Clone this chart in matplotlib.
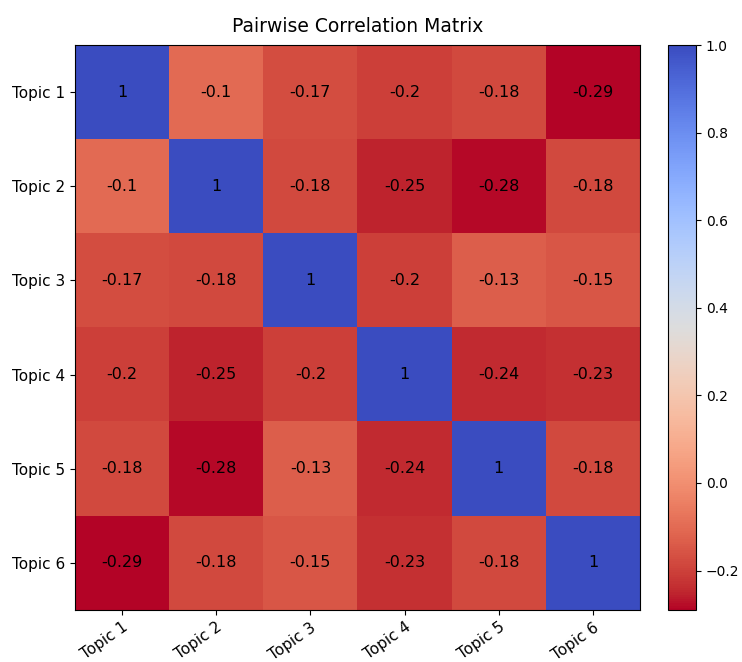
import matplotlib
matplotlib.use("Agg")
import matplotlib.pyplot as plt
import numpy as np

labels = ["Topic 1", "Topic 2", "Topic 3", "Topic 4", "Topic 5", "Topic 6"]
row1 = [1, -0.1, -0.17, -0.2, -0.18, -0.29]
row2 = [-0.1, 1, -0.18, -0.25, -0.28, -0.18]
row3 = [-0.17, -0.18, 1, -0.2, -0.13, -0.15]
row4 = [-0.2, -0.25, -0.2, 1, -0.24, -0.23]
row5 = [-0.18, -0.28, -0.13, -0.24, 1, -0.18]
row6 = [-0.29, -0.18, -0.15, -0.23, -0.18, 1]
corr = np.array([row1, row2, row3, row4, row5, row6])

fig = plt.figure(figsize=(7.42, 6.62), dpi=100)
ax = fig.add_axes([75/742, 1 - 610/662, 565/742, 565/662])
cax = fig.add_axes([668/742, 1 - 610/662, 28/742, 565/662])

im = ax.imshow(corr, cmap="coolwarm_r", aspect="auto")
cb = fig.colorbar(im, cax=cax)
cb.ax.tick_params(labelsize=10)

ax.set_xticks(range(len(labels)))
ax.set_yticks(range(len(labels)))
ax.set_xticklabels(labels, rotation=35, ha="right", rotation_mode="anchor", fontsize=11)
ax.set_yticklabels(labels, fontsize=11)

for i in range(len(labels)):
    for j in range(len(labels)):
        ax.text(j, i, f"{corr[i, j]:g}", ha="center", va="center", color="black", fontsize=11.5)

ax.set_title("Pairwise Correlation Matrix", fontsize=13.5, pad=9)

fig.savefig("out.png", dpi=100)
